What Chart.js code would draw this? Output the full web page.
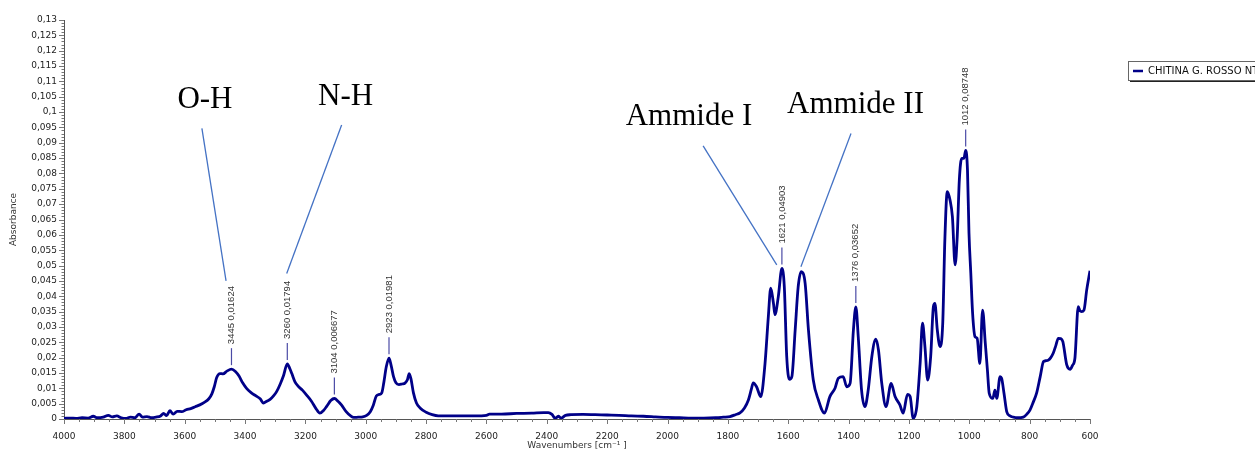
<!DOCTYPE html>
<html>
<head>
<meta charset="utf-8">
<script src="https://cdn.jsdelivr.net/npm/chart.js@4.4.1/dist/chart.umd.min.js"></script>
<style>
  html, body { margin: 0; padding: 0; background: #fff; }
  canvas { display: block; }
</style>
</head>
<body>
<canvas id="spectrum" width="1255" height="450"></canvas>
<script>
// FTIR spectrum: wavenumber (cm-1) against absorbance
const wavenumbers = [
  4000, 3980, 3960, 3940, 3920, 3903, 3890, 3870, 3853, 3840, 3825, 3810, 3795, 3780, 3765, 3751,
  3740, 3725, 3710, 3695, 3680, 3670, 3660, 3649, 3638, 3625, 3610, 3595, 3580, 3565, 3550, 3535,
  3520, 3510, 3502, 3494, 3483, 3473, 3460, 3445, 3432, 3420, 3408, 3395, 3380, 3365, 3350, 3339,
  3328, 3317, 3305, 3295, 3283, 3273, 3260, 3252, 3245, 3235, 3225, 3210, 3196, 3180, 3165, 3152,
  3140, 3129, 3116, 3104, 3092, 3080, 3065, 3050, 3040, 3025, 3010, 2997, 2985, 2975, 2965, 2955,
  2947, 2940, 2932, 2923, 2916, 2908, 2900, 2890, 2880, 2870, 2862, 2856, 2850, 2842, 2832, 2820,
  2800, 2780, 2760, 2720, 2680, 2640, 2600, 2590, 2550, 2500, 2450, 2410, 2395, 2383, 2372, 2362,
  2352, 2338, 2320, 2280, 2240, 2200, 2160, 2120, 2080, 2040, 2000, 1960, 1920, 1880, 1840, 1815,
  1793, 1775, 1760, 1745, 1732, 1722, 1716, 1705, 1691, 1677, 1666, 1658, 1649, 1644, 1633, 1621,
  1613, 1605, 1596, 1588, 1577, 1567, 1557, 1544, 1533, 1517, 1500, 1480, 1462, 1445, 1434, 1418,
  1406, 1395, 1384, 1376, 1368, 1357, 1346, 1335, 1323, 1310, 1301, 1290, 1276, 1259, 1246, 1230,
  1219, 1205, 1196, 1186, 1174, 1163, 1155, 1147, 1138, 1128, 1119, 1114, 1106, 1097, 1088, 1081,
  1073, 1064, 1056, 1047, 1040, 1033, 1025, 1018, 1012, 1006, 1001, 995, 989, 981, 974, 965,
  956, 947, 940, 934, 922, 915, 909, 898, 893, 885, 876, 865, 854, 840, 821, 810,
  799, 788, 777, 765, 754, 745, 738, 730, 722, 713, 705, 697, 690, 677, 666, 658,
  650, 639, 633, 628, 620, 611, 600
];
const absorbance = [
  0.0002, 0.0003, 0.0002, 0.0004, 0.0003, 0.0009, 0.0004, 0.0006, 0.0012, 0.0007, 0.0010, 0.0004, 0.0002, 0.0006, 0.0004, 0.0016,
  0.0006, 0.0008, 0.0004, 0.0006, 0.0010, 0.0018, 0.0011, 0.0027, 0.0016, 0.0025, 0.0024, 0.0030, 0.0034, 0.0040, 0.0046, 0.0054,
  0.0066, 0.0082, 0.0105, 0.0135, 0.0148, 0.0147, 0.0156, 0.01624, 0.0155, 0.0140, 0.0118, 0.0100, 0.0086, 0.0076, 0.0066, 0.0052,
  0.0058, 0.0064, 0.0076, 0.0090, 0.0115, 0.0140, 0.01794, 0.0165, 0.0148, 0.0122, 0.0108, 0.0094, 0.0078, 0.0058, 0.0034, 0.0019,
  0.0028, 0.0042, 0.0060, 0.006677, 0.0058, 0.0045, 0.0024, 0.0010, 0.0005, 0.0006, 0.0007, 0.0012, 0.0024, 0.0045, 0.0075, 0.0080,
  0.0085, 0.0120, 0.0170, 0.01981, 0.0175, 0.0138, 0.0118, 0.0112, 0.0114, 0.0117, 0.0128, 0.0148, 0.0130, 0.0085, 0.0052, 0.0036,
  0.0022, 0.0014, 0.0010, 0.0010, 0.0010, 0.0010, 0.0012, 0.0016, 0.0016, 0.0018, 0.0019, 0.0021, 0.0021, 0.0015, 0.0002, 0.0009,
  0.0003, 0.0012, 0.0014, 0.0015, 0.0014, 0.0013, 0.0012, 0.0010, 0.0009, 0.0007, 0.0005, 0.0004, 0.0003, 0.0003, 0.0004, 0.0006,
  0.0008, 0.0014, 0.0020, 0.0036, 0.0062, 0.0098, 0.0118, 0.0105, 0.0073, 0.0180, 0.0333, 0.0426, 0.0377, 0.0340, 0.0398, 0.04903,
  0.0431, 0.0203, 0.0129, 0.0138, 0.0290, 0.0431, 0.0480, 0.0442, 0.0290, 0.0127, 0.0062, 0.0019, 0.0073, 0.0100, 0.0133, 0.0138,
  0.0105, 0.0116, 0.0290, 0.03652, 0.0268, 0.0094, 0.0040, 0.0094, 0.0203, 0.0260, 0.0225, 0.0116, 0.0040, 0.0116, 0.0073, 0.0046,
  0.0019, 0.0080, 0.0073, 0.0002, 0.0040, 0.0180, 0.0312, 0.0236, 0.0127, 0.0203, 0.0366, 0.0377, 0.0290, 0.0236, 0.0312, 0.0583,
  0.0741, 0.0714, 0.0659, 0.0502, 0.0594, 0.0779, 0.0849, 0.0849, 0.08748, 0.0811, 0.0605, 0.0475, 0.0344, 0.0268, 0.0263, 0.0181,
  0.0355, 0.0247, 0.0160, 0.0084, 0.0067, 0.0094, 0.0067, 0.0138, 0.0133, 0.0084, 0.0024, 0.0010, 0.0006, 0.0004, 0.0006, 0.0015,
  0.0029, 0.0055, 0.0084, 0.0138, 0.0187, 0.0190, 0.0192, 0.0200, 0.0214, 0.0240, 0.0263, 0.0262, 0.0252, 0.0176, 0.0162, 0.0175,
  0.0198, 0.0366, 0.0352, 0.0350, 0.0355, 0.0420, 0.0483
];

// picked peaks
const peakWavenumbers = [3445, 3260, 3104, 2923, 1621, 1376, 1012];
const peakAbsorbance = [0.01624, 0.01794, 0.006677, 0.01981, 0.04903, 0.03652, 0.08748];

// band assignments, anchored in data units (wavenumber, absorbance)
const bandNames = ['O-H', 'N-H', 'Ammide I', 'Ammide II'];
const bandTextAt = [[3533, 0.1013], [3067, 0.1023], [1929, 0.0958], [1377, 0.0997]];
const bandLineFrom = [[3543, 0.0947], [3080, 0.0958], [1882, 0.0890], [1392, 0.0930]];
const bandLineTo = [[3463, 0.0450], [3262, 0.0474], [1638, 0.0502], [1558, 0.0496]];

const seriesName = 'CHITINA G. ROSSO NT';

const LINE = '#000088';
const TICK_FONT = { family: '"DejaVu Sans", Verdana, sans-serif', size: 9 };

const comma = v => String(+v.toFixed(6)).replace('.', ',');

// minor + major tick marks on both axes
const axisTicks = {
  id: 'axisTicks',
  afterDraw(chart) {
    const { ctx, scales: { x, y } } = chart;
    ctx.save();
    ctx.strokeStyle = '#777';
    ctx.lineWidth = 1;
    ctx.beginPath();
    for (let i = 0; i <= 130; i++) {
      const py = Math.round(y.getPixelForValue(i / 1000)) + 0.5;
      const len = i % 5 === 0 ? 5 : 2.5;
      ctx.moveTo(x.left, py);
      ctx.lineTo(x.left - len, py);
    }
    for (let w = 600; w <= 4000; w += 50) {
      const px = Math.round(x.getPixelForValue(w)) + 0.5;
      const len = w % 200 === 0 ? 5 : 3;
      ctx.moveTo(px, y.bottom);
      ctx.lineTo(px, y.bottom + len);
    }
    ctx.stroke();
    ctx.restore();
  }
};

// vertical peak markers with "wavenumber value" text
const peakLabels = {
  id: 'peakLabels',
  afterDatasetsDraw(chart) {
    const { ctx, scales: { x, y } } = chart;
    ctx.save();
    ctx.font = '9.5px "Liberation Sans", Arial, sans-serif';
    ctx.fillStyle = '#333';
    ctx.strokeStyle = '#4b4ba6';
    ctx.lineWidth = 1.2;
    peakWavenumbers.forEach((w, i) => {
      const px = x.getPixelForValue(w);
      const py = y.getPixelForValue(peakAbsorbance[i]);
      ctx.beginPath();
      ctx.moveTo(px, py - 4);
      ctx.lineTo(px, py - 21);
      ctx.stroke();
      ctx.save();
      ctx.translate(px, py - 25);
      ctx.rotate(-Math.PI / 2);
      ctx.textAlign = 'left';
      ctx.textBaseline = 'middle';
      ctx.fillText(w + ' ' + comma(peakAbsorbance[i]), 0, 0);
      ctx.restore();
    });
    ctx.restore();
  }
};

// band names with leader lines
const bandNotes = {
  id: 'bandNotes',
  afterDatasetsDraw(chart) {
    const { ctx, scales: { x, y } } = chart;
    ctx.save();
    ctx.strokeStyle = '#4472c4';
    ctx.lineWidth = 1.3;
    bandNames.forEach((name, i) => {
      ctx.beginPath();
      ctx.moveTo(x.getPixelForValue(bandLineFrom[i][0]), y.getPixelForValue(bandLineFrom[i][1]));
      ctx.lineTo(x.getPixelForValue(bandLineTo[i][0]), y.getPixelForValue(bandLineTo[i][1]));
      ctx.stroke();
    });
    ctx.font = '31px "Liberation Serif", "Times New Roman", serif';
    ctx.fillStyle = '#000';
    ctx.textAlign = 'center';
    ctx.textBaseline = 'alphabetic';
    bandNames.forEach((name, i) => {
      ctx.fillText(name, x.getPixelForValue(bandTextAt[i][0]), y.getPixelForValue(bandTextAt[i][1]));
    });
    ctx.restore();
  }
};

// boxed legend on the right, cut by the canvas edge
const boxLegend = {
  id: 'boxLegend',
  afterDraw(chart) {
    const { ctx, chartArea } = chart;
    const left = chartArea.right + 38, top = 61, w = 160, h = 19;
    ctx.save();
    ctx.fillStyle = '#222';
    ctx.fillRect(left + 2, top + 2, w, h);
    ctx.fillStyle = '#fff';
    ctx.fillRect(left, top, w, h);
    ctx.strokeStyle = '#666';
    ctx.lineWidth = 1;
    ctx.strokeRect(left + 0.5, top + 0.5, w, h);
    ctx.strokeStyle = LINE;
    ctx.lineWidth = 2.5;
    ctx.beginPath();
    ctx.moveTo(left + 5, top + 10);
    ctx.lineTo(left + 15, top + 10);
    ctx.stroke();
    ctx.fillStyle = '#111';
    ctx.font = '10px "DejaVu Sans", Verdana, sans-serif';
    ctx.textBaseline = 'middle';
    ctx.fillText(seriesName, left + 20, top + 10.5);
    ctx.restore();
  }
};

new Chart(document.getElementById('spectrum'), {
  type: 'line',
  data: {
    datasets: [{
      label: seriesName,
      data: wavenumbers.map((w, i) => ({ x: w, y: absorbance[i] })),
      borderColor: LINE,
      borderWidth: 2.8,
      pointRadius: 0,
      fill: false,
      cubicInterpolationMode: 'monotone'
    }]
  },
  options: {
    responsive: false,
    animation: false,
    devicePixelRatio: 1,
    layout: { padding: { top: 20, right: 165, left: 0, bottom: 0 } },
    plugins: {
      legend: { display: false },
      tooltip: { enabled: false }
    },
    scales: {
      x: {
        type: 'linear',
        reverse: true,
        min: 600,
        max: 4000,
        afterFit: s => { s.height = 31; },
        border: { display: true, color: '#555', width: 1 },
        grid: { display: true, drawOnChartArea: false, drawTicks: true, tickLength: 5, tickColor: 'transparent' },
        ticks: {
          stepSize: 200,
          autoSkip: false,
          maxRotation: 0,
          padding: 7,
          color: '#222',
          font: TICK_FONT,
          callback: v => String(v)
        },
        title: {
          display: true,
          text: 'Wavenumbers [cm\u207B\u00B9 ]',
          color: '#333',
          font: { family: '"DejaVu Sans", Verdana, sans-serif', size: 9 },
          padding: { top: 0, bottom: -1 }
        }
      },
      y: {
        min: 0,
        max: 0.13,
        afterFit: s => { s.width = 64; },
        border: { display: true, color: '#555', width: 1 },
        grid: { display: true, drawOnChartArea: false, drawTicks: true, tickLength: 5, tickColor: 'transparent' },
        ticks: {
          stepSize: 0.005,
          autoSkip: false,
          padding: 2,
          color: '#222',
          font: TICK_FONT,
          callback: v => comma(Math.round(v * 1000) / 1000)
        },
        title: {
          display: true,
          text: 'Absorbance',
          color: '#333',
          font: { family: '"DejaVu Sans", Verdana, sans-serif', size: 9 },
          padding: { top: 8, bottom: 0 }
        }
      }
    }
  },
  plugins: [axisTicks, peakLabels, bandNotes, boxLegend]
});
</script>
</body>
</html>
